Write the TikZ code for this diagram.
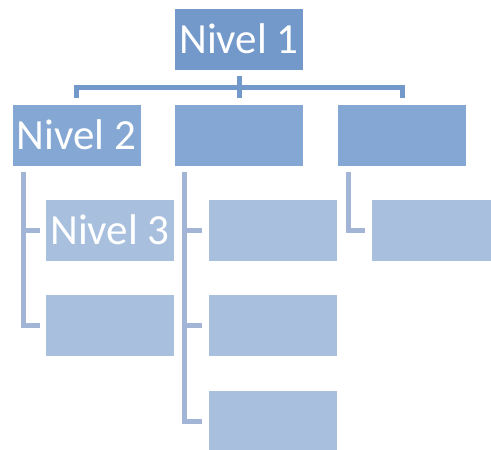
\documentclass[tikz,border=0pt]{standalone}
\usepackage{fontspec}
\setmainfont{Carlito}
\definecolor{top}{RGB}{115,153,203}
\definecolor{mid}{RGB}{132,167,211}
\definecolor{low}{RGB}{168,192,222}
\definecolor{lowline}{RGB}{162,181,214}
\tikzstyle{base}=[x=1pt, y=-1pt, inner sep=0pt, outer sep=6pt, font=\fontsize{43}{50}\selectfont]
\tikzstyle{box}=[draw=white, line width=0.6pt, text=white, minimum width=129pt, minimum height=62pt]
\tikzstyle{trunk}=[draw=top, line width=5pt]
\tikzstyle{branch}=[draw=lowline, line width=5pt]

\begin{document}
\begin{tikzpicture}[base]
    \path [use as bounding box] (0,0) rectangle (491,450);
    % niveles
    \node [box, fill=top] (n1) at (239,39) {Nivel 1};
    \node [box, fill=mid] (n2a) at (76.5,135) {Nivel 2};
    \node [box, fill=mid] (n2b) at (239,135) {};
    \node [box, fill=mid] (n2c) at (402,135) {};
    \node [box, fill=low] (n3a) at (110,230) {Nivel 3};
    \node [box, fill=low] (n3b) at (110,325.5) {};
    \node [box, fill=low] (n3c) at (272.5,230) {};
    \node [box, fill=low] (n3d) at (272.5,325.5) {};
    \node [box, fill=low] (n3e) at (272.5,421) {};
    \node [box, fill=low] (n3f) at (435.5,230) {};
    % conectores
    \coordinate (bus) at (239,87);
    \draw [trunk] (n1.south) -- (n2b.north);
    \draw [trunk] (n2a.north) |- (bus) -| (n2c.north);
    \coordinate (s2a) at ([xshift=17pt]n2a.south west);
    \coordinate (s2b) at ([xshift=16pt]n2b.south west);
    \coordinate (s2c) at ([xshift=17pt]n2c.south west);
    \draw [branch] (s2a) |- (n3b.west);
    \draw [branch] (s2a |- n3a.west) -- (n3a.west);
    \draw [branch] (s2b) |- (n3e.west);
    \draw [branch] (s2b |- n3c.west) -- (n3c.west);
    \draw [branch] (s2b |- n3d.west) -- (n3d.west);
    \draw [branch] (s2c) |- (n3f.west);
\end{tikzpicture}
\end{document}
